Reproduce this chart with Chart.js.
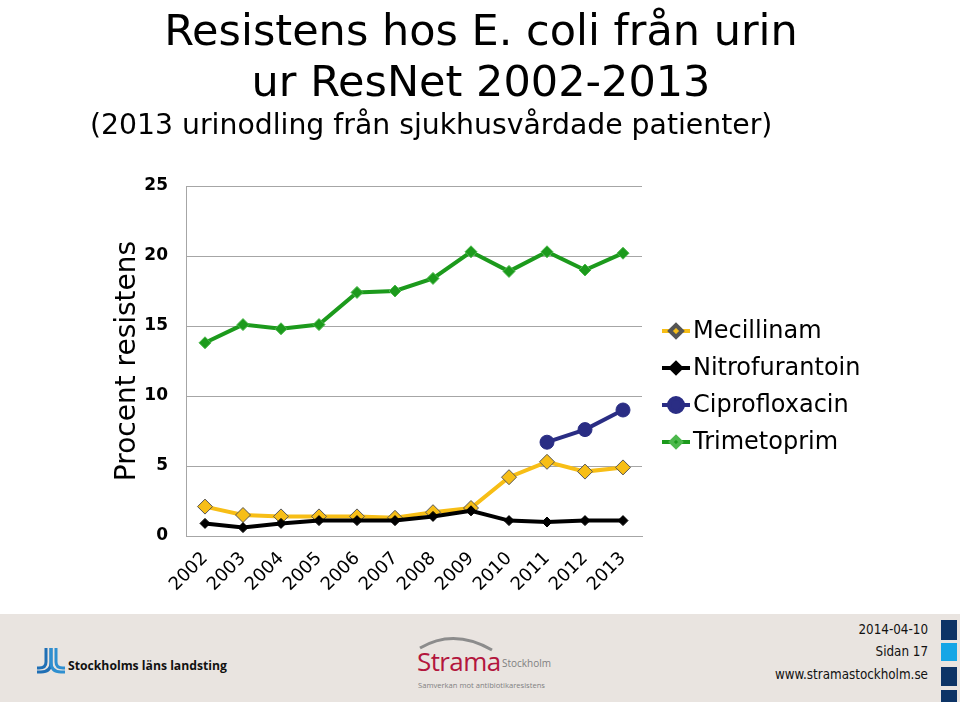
<!DOCTYPE html>
<html>
<head>
<meta charset="utf-8">
<script src="https://cdn.jsdelivr.net/npm/chart.js@4"></script>
<style>
    html, body { margin: 0; padding: 0; background: #fff; }
    #wrap { width: 960px; height: 702px; position: relative; overflow: hidden; font-family: "DejaVu Sans", Verdana, sans-serif; }
    #chart-box { width: 960px; height: 614px; }
    .t { position: absolute; white-space: nowrap; color: #000; }
    .t1 { left: 0; width: 962px; text-align: center; font-size: 43px; line-height: 50px; }
    .t3 { left: 90px; top: 108px; font-size: 28.3px; line-height: 34px; }
    #footer { position: absolute; left: 0; top: 614px; width: 960px; height: 88px; background: #e9e4e0; }
    .sll { position: absolute; left: 37px; top: 34px; }
    .sll-text { position: absolute; left: 68px; top: 43px; font: bold 12.2px "Open Sans", sans-serif; color: #111; }
    .strama-arc { position: absolute; left: 418px; top: 20px; }
    .strama { position: absolute; left: 417px; top: 29px; font: 26px "Open Sans", sans-serif; color: #b3163d; letter-spacing: -0.6px; }
    .strama-sthlm { position: absolute; left: 502px; top: 42px; font: 10px "Open Sans", sans-serif; color: #808080; }
    .strama-sub { position: absolute; left: 418px; top: 66px; font: 7.6px "Open Sans", sans-serif; color: #808080; }
    .meta { position: absolute; right: 32px; text-align: right; font: 13.3px "DejaVu Sans Condensed", "DejaVu Sans", sans-serif; color: #111; }
    .sq { position: absolute; left: 941px; width: 16px; }
</style>
</head>
<body>
<div id="wrap">
    <div id="chart-box"><canvas id="chart-resistens" width="960" height="614"></canvas></div>
    <div class="t t1" style="top: 5px;">Resistens hos E. coli från urin</div>
    <div class="t t1" style="top: 56px;">ur ResNet 2002-2013</div>
    <div class="t t3">(2013 urinodling från sjukhusvårdade patienter)</div>
    <div id="footer">
        <svg class="sll" width="28" height="28" viewBox="0 0 28 28">
            <path d="M9 0 V14 Q9 20 2 20 H0" stroke="#1f6fb5" stroke-width="3" fill="none"/>
            <path d="M14 0 V14 Q14 24 4 24 H0" stroke="#1f6fb5" stroke-width="3" fill="none"/>
            <path d="M14 0 V14 Q14 24 24 24 H28" stroke="#2f8fd0" stroke-width="3" fill="none"/>
            <path d="M19 0 V14 Q19 20 26 20 H28" stroke="#2f8fd0" stroke-width="3" fill="none"/>
        </svg>
        <div class="sll-text">Stockholms läns landsting</div>
        <svg class="strama-arc" width="80" height="18" viewBox="0 0 80 18">
            <path d="M2 14 Q36 -6 74 16" stroke="#8c8c8c" stroke-width="3" fill="none"/>
        </svg>
        <div class="strama">Strama</div>
        <div class="strama-sthlm">Stockholm</div>
        <div class="strama-sub">Samverkan mot antibiotikaresistens</div>
        <div class="meta" style="top: 8px;">2014-04-10</div>
        <div class="meta" style="top: 30px;">Sidan 17</div>
        <div class="meta" style="top: 53px;">www.stramastockholm.se</div>
        <div class="sq" style="top: 6px; height: 20px; background: #0d3466;"></div>
        <div class="sq" style="top: 29px; height: 18px; background: #16a6e6;"></div>
        <div class="sq" style="top: 53px; height: 19px; background: #0d3466;"></div>
        <div class="sq" style="top: 76px; height: 12px; background: #0d3466;"></div>
    </div>
</div>
<script>
const years = ['2002', '2003', '2004', '2005', '2006', '2007', '2008', '2009', '2010', '2011', '2012', '2013'];
const mecillinam = [2.1, 1.5, 1.4, 1.4, 1.4, 1.3, 1.7, 2.0, 4.2, 5.3, 4.6, 4.9];
const nitrofurantoin = [0.9, 0.6, 0.9, 1.1, 1.1, 1.1, 1.4, 1.8, 1.1, 1.0, 1.1, 1.1];
const ciprofloxacin = [null, null, null, null, null, null, null, null, null, 6.7, 7.6, 9.0];
const trimetoprim = [13.8, 15.1, 14.8, 15.1, 17.4, 17.5, 18.4, 20.3, 18.9, 20.3, 19.0, 20.2];
const yMin = 0;
const yMax = 25;
const yStep = 5;

const FONT = '"DejaVu Sans", Verdana, sans-serif';

// legend drawn to the right of the plot, line + marker like the original
const sideLegend = {
    id: 'sideLegend',
    afterDraw(chart) {
        const ctx = chart.ctx;
        const x0 = chart.chartArea.right + 20;
        const rowH = 37;
        const y0 = 331;
        ctx.save();
        chart.data.datasets.forEach((ds, i) => {
            const y = y0 + i * rowH;
            ctx.strokeStyle = ds.borderColor;
            ctx.lineWidth = 4;
            ctx.beginPath();
            ctx.moveTo(x0, y);
            ctx.lineTo(x0 + 28, y);
            ctx.stroke();
            ctx.fillStyle = ds.pointBackgroundColor;
            ctx.strokeStyle = ds.pointBorderColor;
            Chart.helpers.drawPoint(ctx, {
                pointStyle: ds.pointStyle,
                radius: ds.legendRadius,
                borderWidth: ds.pointBorderWidth,
                rotation: 0
            }, x0 + 14, y);
            ctx.fillStyle = '#000';
            ctx.font = '24px ' + FONT;
            ctx.textBaseline = 'middle';
            ctx.textAlign = 'left';
            ctx.fillText(ds.label, x0 + 31, y + 1);
        });
        ctx.restore();
    }
};

function makeChart() {
    const ctx = document.getElementById('chart-resistens').getContext('2d');
    new Chart(ctx, {
        type: 'line',
        data: {
            labels: years,
            datasets: [
                {
                    label: 'Mecillinam', data: mecillinam, order: 2,
                    borderColor: '#f7be16', borderWidth: 4,
                    pointStyle: 'rectRot', pointRadius: 7.5, legendRadius: 6,
                    pointBackgroundColor: '#f7be16', pointBorderColor: '#555', pointBorderWidth: 1
                },
                {
                    label: 'Nitrofurantoin', data: nitrofurantoin, order: 1,
                    borderColor: '#000', borderWidth: 4,
                    pointStyle: 'rectRot', pointRadius: 5, legendRadius: 5,
                    pointBackgroundColor: '#000', pointBorderColor: '#000', pointBorderWidth: 1
                },
                {
                    label: 'Ciprofloxacin', data: ciprofloxacin, order: 0,
                    borderColor: '#2a2d84', borderWidth: 4,
                    pointStyle: 'circle', pointRadius: 7, legendRadius: 7,
                    pointBackgroundColor: '#2a2d84', pointBorderColor: '#2a2d84', pointBorderWidth: 1
                },
                {
                    label: 'Trimetoprim', data: trimetoprim, order: 3,
                    borderColor: '#1c9a1c', borderWidth: 4,
                    pointStyle: 'rectRot', pointRadius: 6, legendRadius: 5,
                    pointBackgroundColor: '#1c9a1c', pointBorderColor: '#4cb84c', pointBorderWidth: 1
                }
            ]
        },
        options: {
            responsive: false,
            animation: false,
            layout: { padding: { left: 100, right: 318, top: 186, bottom: 0 } },
            elements: { line: { tension: 0 } },
            plugins: {
                legend: { display: false },
                tooltip: { enabled: false }
            },
            scales: {
                x: {
                    offset: true,
                    grid: { display: false, drawTicks: false },
                    border: { display: true, color: '#a6a6a6', width: 1 },
                    ticks: { color: '#000', font: { family: FONT, size: 18 }, minRotation: 45, maxRotation: 45, padding: 12 },
                    afterFit: s => { s.height = 78; }
                },
                y: {
                    min: yMin, max: yMax,
                    grid: { color: '#a6a6a6', drawTicks: false },
                    border: { display: true, color: '#a6a6a6' },
                    ticks: { stepSize: yStep, color: '#000', padding: 18, font: { family: FONT, size: 17, weight: 'bold' } },
                    title: { display: true, text: 'Procent resistens', color: '#000', font: { family: FONT, size: 28 }, padding: { top: 11, bottom: 0 } },
                    afterFit: s => { s.width = 86; }
                }
            }
        },
        plugins: [sideLegend]
    });
}

document.addEventListener('DOMContentLoaded', makeChart);
</script>
</body>
</html>
